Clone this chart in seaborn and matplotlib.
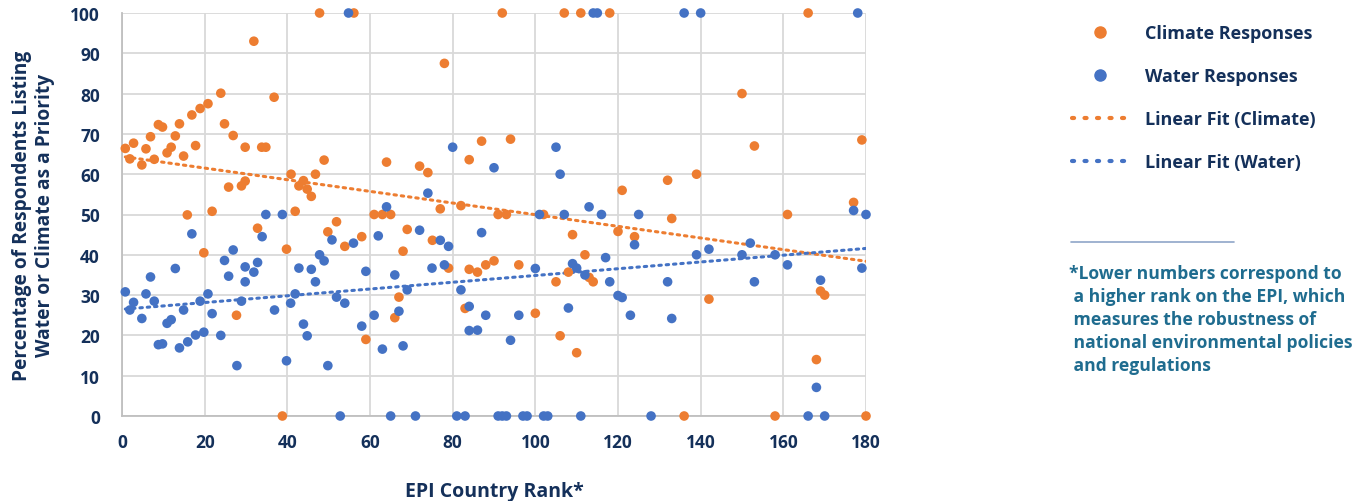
import numpy as np
import pandas as pd
import matplotlib
matplotlib.use("Agg")
import matplotlib.pyplot as plt
from matplotlib.lines import Line2D
import seaborn as sns

# EPI country rank vs. share of respondents naming each issue a priority
climate_rank = [0.8, 1.9, 2.8, 4.8, 5.8, 6.9, 7.8, 8.8, 9.8, 10.9, 11.9, 12.9, 13.9, 14.9, 15.8,
                16.9, 17.8, 18.9, 19.8, 20.8, 21.8, 23.9, 24.8, 25.8, 26.9, 27.7, 28.9, 29.8, 29.8,
                31.9, 32.8, 33.8, 34.8, 36.8, 38.8, 39.8, 40.9, 41.9, 42.8, 43.9, 44.8, 45.8, 46.8,
                47.8, 48.9, 49.8, 51.9, 53.9, 56.1, 58, 59, 61, 63, 64, 65, 66, 67, 68, 69, 72, 74,
                75.1, 77, 78, 79, 82, 83, 84, 84, 86, 87, 88, 90, 91, 92, 93, 94, 96, 100, 102, 105,
                106, 107, 108, 109, 110, 111, 112, 113, 114, 118, 120, 121, 124, 132, 133, 136, 139,
                142, 150, 153, 158, 161, 166, 168, 169, 170, 177, 179, 180]
climate_pct = [66.4, 63.8, 67.7, 62.3, 66.3, 69.3, 63.7, 72.3, 71.7, 65.3, 66.7, 69.5, 72.5, 64.5, 49.9,
               74.7, 67.1, 76.3, 40.5, 77.5, 50.8, 80.1, 72.5, 56.8, 69.6, 25, 57.1, 66.7, 58.3,
               93, 46.6, 66.7, 66.7, 79.1, 0, 41.4, 60, 50.8, 57.1, 58.4, 56.3, 54.5, 60,
               100, 63.5, 45.7, 48.2, 42.1, 100, 44.5, 19, 50, 50, 63, 50, 24.4, 29.5, 40.9, 46.3, 62, 60.4,
               43.6, 51.4, 87.5, 36.7, 52.2, 26.7, 63.6, 36.4, 35.7, 68.2, 37.5, 38.5, 50, 100, 50, 68.7, 37.5, 25.5, 50, 33.3,
               19.9, 100, 35.7, 45, 15.7, 100, 40, 34.4, 33.3, 100, 45.8, 56, 44.5, 58.5, 49, 0, 60,
               29, 80, 67, 0, 50, 100, 14, 31, 30, 53, 68.5, 0]

water_rank = [0.8, 1.9, 2.8, 4.8, 5.8, 6.9, 7.8, 8.8, 9.8, 10.9, 11.9, 12.9, 13.9, 14.9, 15.9, 16.9,
              17.8, 18.9, 19.8, 20.8, 21.8, 23.9, 24.8, 25.8, 26.9, 27.8, 28.9, 29.8, 29.8, 31.9,
              32.8, 33.9, 34.8, 36.9, 38.8, 39.8, 40.8, 41.9, 42.8, 43.9, 44.8, 45.8, 46.8, 47.8,
              48.9, 49.8, 50.8, 51.9, 52.8, 53.9, 54.8, 56, 58, 59, 61, 62, 63, 64, 65, 66, 67, 68,
              69, 71, 72, 74, 75, 77, 78, 79, 80, 81, 82, 83, 84, 84, 86, 87, 88, 90, 91, 92, 93, 94,
              96, 97, 98, 100, 101, 102, 103, 105, 106, 107, 108, 109, 110, 111, 112, 113, 114, 115,
              116, 117, 118, 120, 121, 123, 124, 125, 128, 132, 133, 136, 139, 140, 142, 150, 152,
              153, 158, 161, 166, 168, 169, 170, 177, 178, 179, 180]
water_pct = [30.8, 26.3, 28.2, 24.2, 30.3, 34.5, 28.5, 17.7, 17.9, 23, 23.9, 36.6, 16.9, 26.3, 18.4, 45.2,
             20.1, 28.5, 20.8, 30.3, 25.4, 20, 38.6, 34.7, 41.2, 12.5, 28.5, 33.3, 37, 35.7,
             38.1, 44.5, 50, 26.3, 50, 13.7, 28, 30.3, 36.7, 22.8, 19.9, 36.4, 33.3, 40,
             38.5, 12.5, 43.7, 29.5, 0, 28, 100, 42.9, 22.3, 35.9, 25, 44.7, 16.6, 51.9, 0, 35, 26, 17.4,
             31.3, 0, 46.1, 55.3, 36.7, 43.6, 37.5, 42.1, 66.7, 0, 31.3, 0, 27.2, 21.2, 21.3, 45.5, 25, 61.6, 0, 0, 0, 18.8,
             25, 0, 0, 36.6, 50, 0, 0, 66.7, 60, 50, 26.8, 37.8, 36.7, 0, 35, 51.9, 100, 100,
             50, 39.3, 33.3, 29.9, 29.4, 25, 42.5, 50, 0, 33.3, 24.2, 100, 40, 100, 41.4, 40, 42.9,
             33.3, 40, 37.5, 0, 7.1, 33.7, 0, 51, 100, 36.7, 50]

series_names = ["Climate Responses", "Water Responses"]
fit_names = ["Linear Fit (Climate)", "Linear Fit (Water)"]
x_ticks = [0, 20, 40, 60, 80, 100, 120, 140, 160, 180]
y_ticks = [0, 10, 20, 30, 40, 50, 60, 70, 80, 90, 100]
footnote_lines = ["*Lower numbers correspond to",
                  " a higher rank on the EPI, which",
                  " measures the robustness of",
                  " national environmental policies",
                  " and regulations"]

ORANGE = "#ED7D31"
BLUE = "#4472C4"
NAVY = "#14305A"
TEAL = "#1F6C8F"
GRID = "#D9D9D9"

df = pd.concat([
    pd.DataFrame({"rank": climate_rank, "pct": climate_pct, "series": series_names[0]}),
    pd.DataFrame({"rank": water_rank, "pct": water_pct, "series": series_names[1]}),
], ignore_index=True)

sns.set_theme(style="whitegrid")
plt.rcParams["font.family"] = ["Open Sans", "DejaVu Sans"]
plt.rcParams["font.weight"] = "bold"

fig = plt.figure(figsize=(13.66, 5.02), dpi=100)
ax = fig.add_axes([122 / 1366, 1 - 417 / 502, (866 - 122) / 1366, (417 - 14) / 502])

sns.scatterplot(data=df, x="rank", y="pct", hue="series",
                palette={series_names[0]: ORANGE, series_names[1]: BLUE},
                s=48, linewidth=0, alpha=1, legend=False, ax=ax, clip_on=False, zorder=3)

for name, color in zip(series_names, [ORANGE, BLUE]):
    sub = df[df["series"] == name]
    sns.regplot(data=sub, x="rank", y="pct", scatter=False, ci=None, ax=ax,
                line_kws=dict(color=color, linewidth=2.2, linestyle=(0, (0.8, 1.6)),
                              dash_capstyle="round", zorder=2))

ax.set_xlim(0, 180)
ax.set_ylim(0, 100)
ax.set_xticks(x_ticks)
ax.set_yticks(y_ticks)
ax.grid(True, color=GRID, linewidth=1.3)
ax.set_axisbelow(True)
for side in ["top", "right"]:
    ax.spines[side].set_visible(False)
for side in ["left", "bottom"]:
    ax.spines[side].set_color("#BFBFBF")
    ax.spines[side].set_linewidth(1.3)
ax.tick_params(axis="both", length=0, labelsize=12.5, labelcolor=NAVY)
for lab in ax.get_xticklabels() + ax.get_yticklabels():
    lab.set_fontweight("bold")
ax.tick_params(axis="y", pad=16)
ax.tick_params(axis="x", pad=12)

ax.set_xlabel("EPI Country Rank*", fontsize=14, fontweight="bold", color=NAVY, labelpad=22)
ax.set_ylabel("Percentage of Respondents Listing\nWater or Climate as a Priority",
              fontsize=13.8, fontweight="bold", color=NAVY, labelpad=11, linespacing=1.2)

handles = [
    Line2D([], [], linestyle="none", marker="o", markersize=8, color=ORANGE),
    Line2D([], [], linestyle="none", marker="o", markersize=8, color=BLUE),
    Line2D([], [], color=ORANGE, linewidth=3, linestyle=(0, (0.5, 2.5)), dash_capstyle="round"),
    Line2D([], [], color=BLUE, linewidth=3, linestyle=(0, (0.5, 2.5)), dash_capstyle="round"),
]
leg = fig.legend(handles, series_names + fit_names, loc="upper left",
                 bbox_to_anchor=(1056 / 1366, 1 - 9 / 502), frameon=False,
                 handlelength=3.1, handletextpad=0.95, labelspacing=1.38,
                 prop=dict(size=13, weight="bold"))
for t in leg.get_texts():
    t.set_color(NAVY)

fig.add_artist(Line2D([1071 / 1366, 1234 / 1366], [1 - 243 / 502, 1 - 243 / 502],
                      color="#8FA6C8", linewidth=1.2))
fig.text(1069 / 1366, 1 - 265 / 502, "\n".join(footnote_lines), ha="left", va="top",
         fontsize=12.6, fontweight="bold", color=TEAL, linespacing=1.36)

fig.savefig("out.png", dpi=100)
